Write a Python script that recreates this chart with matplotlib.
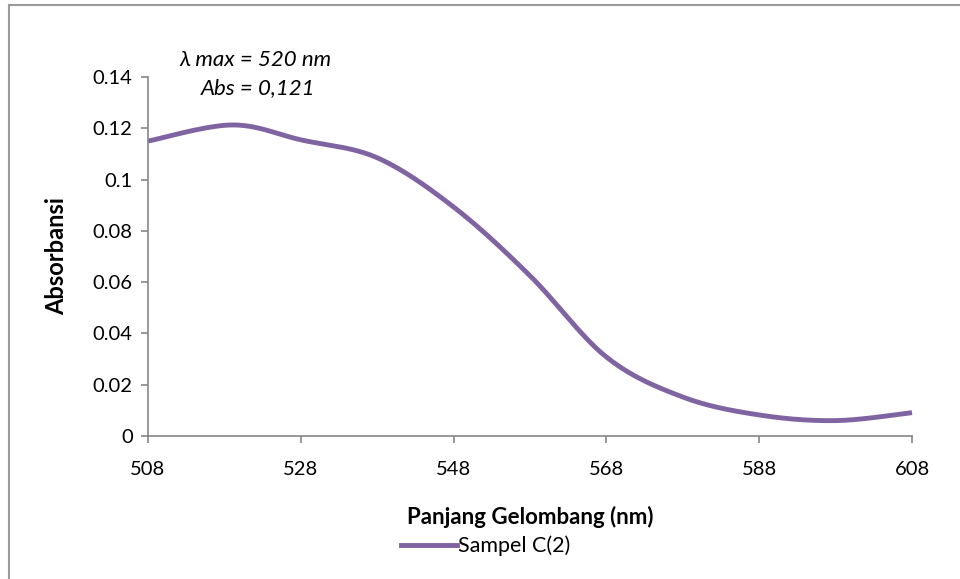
import numpy as np
import matplotlib.pyplot as plt
from matplotlib.lines import Line2D

# data
wavelength = [508, 519, 528, 538, 548, 558, 568, 578, 588, 598, 608]
absorbance = [0.115, 0.1213, 0.1155, 0.1085, 0.0893, 0.0625, 0.0308, 0.0152, 0.0082, 0.0060, 0.0091]
x_ticks = [508, 528, 548, 568, 588, 608]
y_ticks = [0, 0.02, 0.04, 0.06, 0.08, 0.1, 0.12, 0.14]
y_tick_labels = ["0", "0.02", "0.04", "0.06", "0.08", "0.1", "0.12", "0.14"]

LINE_COLOR = "#8064a2"
AXIS_COLOR = "#868686"
FONT = ["Lato", "DejaVu Sans"]


def smooth_line(xs, ys, steps=30):
    # excel-style smoothed line: bezier segments, control points from neighbours
    xs = np.asarray(xs, float)
    ys = np.asarray(ys, float)
    px = np.concatenate([[xs[0]], xs, [xs[-1]]])
    py = np.concatenate([[ys[0]], ys, [ys[-1]]])
    out_x, out_y = [], []
    t = np.linspace(0, 1, steps)
    for i in range(1, len(px) - 2):
        p0 = np.array([px[i], py[i]])
        p3 = np.array([px[i + 1], py[i + 1]])
        c1 = p0 + (p3 - np.array([px[i - 1], py[i - 1]])) / 6
        c2 = p3 - (np.array([px[i + 2], py[i + 2]]) - p0) / 6
        b = ((1 - t) ** 3)[:, None] * p0 + (3 * (1 - t) ** 2 * t)[:, None] * c1 \
            + (3 * (1 - t) * t ** 2)[:, None] * c2 + (t ** 3)[:, None] * p3
        out_x.extend(b[:, 0])
        out_y.extend(b[:, 1])
    return np.array(out_x), np.array(out_y)


plt.rcParams["font.family"] = FONT

fig = plt.figure(figsize=(9.6, 5.79), dpi=100)
ax = fig.add_axes([148 / 960, 1 - 436 / 579, (912 - 148) / 960, (436 - 77) / 579])

sx, sy = smooth_line(wavelength, absorbance)
ax.plot(sx, sy, color=LINE_COLOR, lw=3.5, solid_capstyle="butt", clip_on=False)

ax.set_xlim(508, 608)
ax.set_ylim(0, 0.14)
ax.set_xticks(x_ticks)
ax.set_xticklabels([str(v) for v in x_ticks])
ax.set_yticks(y_ticks)
ax.set_yticklabels(y_tick_labels)
ax.tick_params(direction="out", length=5, width=1.2, color=AXIS_COLOR, labelsize=14.5, pad=6)
ax.tick_params(axis="x", pad=13)

for side in ["top", "right"]:
    ax.spines[side].set_visible(False)
for side in ["left", "bottom"]:
    ax.spines[side].set_color(AXIS_COLOR)
    ax.spines[side].set_linewidth(1.2)

ax.set_xlabel("Panjang Gelombang (nm)", fontsize=16, fontweight="bold", labelpad=20)
ax.set_ylabel("Absorbansi", fontsize=17, fontweight="bold", labelpad=18)

fig.text(255 / 960, 1 - 60 / 579, "λ max = 520 nm", ha="center", va="center",
         fontsize=16, style="italic")
fig.text(258 / 960, 1 - 88 / 579, "Abs = 0,121", ha="center", va="center",
         fontsize=16, style="italic")

handle = Line2D([], [], color=LINE_COLOR, lw=3.5)
fig.legend([handle], ["Sampel C(2)"], loc="center", bbox_to_anchor=(486 / 960, 1 - 546 / 579),
           frameon=False, fontsize=15.5, handlelength=2.6, handletextpad=0.05)

# outer chart border
fig.add_artist(Line2D([9 / 960, 9 / 960], [0, 1 - 5 / 579], color="#9a9a9a", lw=1.5))
fig.add_artist(Line2D([9 / 960, 1], [1 - 5 / 579, 1 - 5 / 579], color="#9a9a9a", lw=1.5))

fig.savefig("out.png", dpi=100)
